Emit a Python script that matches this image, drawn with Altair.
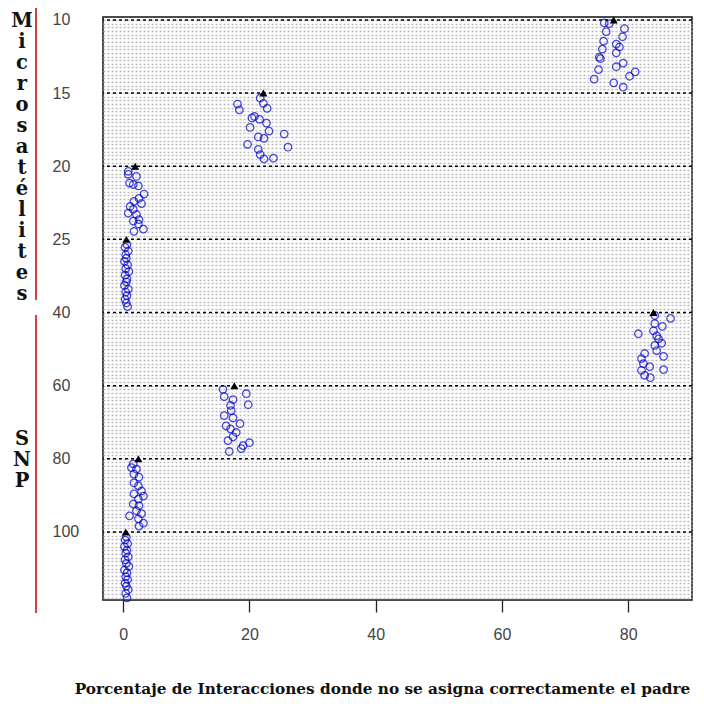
import json
import altair as alt
import pandas as pd

categories = ["10", "15", "20", "25", "40", "60", "80", "100"]
group_names = ["Microsatélites", "SNP"]
means = [77.7, 22.2, 1.9, 0.5, 84.0, 17.6, 2.4, 0.4]

x_10 = [76.2, 77.0, 79.4, 76.5, 79.1, 76.1, 78.1, 78.6, 75.9, 78.1, 75.4, 75.6, 79.2, 78.1, 75.3, 81.1, 80.2, 74.6, 77.7, 79.2]
r_10 = [.04, .05, .12, .16, .23, .29, .33, .37, .40, .45, .51, .53, .59, .64, .68, .71, .77, .81, .86, .92]
x_15 = [21.7, 22.2, 18.1, 22.8, 18.4, 20.8, 20.4, 21.6, 22.7, 20.1, 23.1, 25.5, 21.4, 22.3, 19.7, 26.1, 21.4, 21.7, 23.8, 22.3]
r_15 = [.07, .14, .15, .21, .23, .32, .34, .36, .41, .47, .52, .56, .60, .62, .70, .74, .77, .84, .89, .90]
x_20 = [0.8, 0.8, 2.1, 1.0, 1.6, 2.4, 3.3, 2.5, 1.7, 2.9, 1.1, 1.6, 0.8, 2.1, 2.5, 1.6, 2.4, 3.2, 1.7]
r_20 = [.07, .11, .14, .23, .25, .27, .38, .44, .48, .51, .55, .59, .64, .66, .73, .75, .79, .86, .89]
x_25 = [0.6, 0.3, 0.8, 0.4, 0.5, 0.2, 0.7, 0.4, 0.9, 0.3, 0.6, 0.5, 0.2, 0.8, 0.4, 0.6, 0.3, 0.5, 0.7]
r_25 = [.07, .11, .16, .21, .26, .30, .35, .40, .44, .49, .54, .58, .63, .68, .72, .77, .82, .87, .92]
x_40 = [84.2, 86.7, 84.2, 85.4, 84.0, 81.6, 84.5, 84.8, 85.3, 84.2, 84.5, 82.6, 85.6, 82.1, 82.4, 83.4, 85.6, 82.1, 82.6, 83.5]
r_40 = [.04, .08, .15, .19, .25, .29, .32, .36, .42, .45, .52, .56, .60, .63, .70, .74, .78, .79, .86, .89]
x_60 = [15.8, 19.5, 16.0, 17.4, 19.8, 17.0, 17.1, 16.0, 17.4, 18.5, 16.3, 17.0, 17.9, 17.4, 16.6, 20.0, 19.0, 18.7, 16.8]
r_60 = [.05, .11, .15, .19, .26, .27, .34, .41, .44, .52, .55, .59, .64, .70, .75, .78, .82, .86, .90]
x_80 = [1.6, 1.3, 2.1, 1.7, 2.5, 1.7, 2.4, 2.9, 1.7, 3.2, 2.4, 1.6, 2.5, 2.1, 2.9, 1.0, 2.4, 3.2, 2.5]
r_80 = [.07, .12, .14, .21, .25, .33, .37, .44, .48, .51, .55, .62, .64, .71, .75, .78, .82, .88, .92]
x_100 = [0.5, 0.3, 0.7, 0.2, 0.6, 0.4, 0.8, 0.3, 0.5, 0.9, 0.2, 0.6, 0.4, 0.7, 0.3, 0.5, 0.8, 0.4, 0.6]
r_100 = [.07, .11, .16, .20, .25, .29, .34, .38, .43, .47, .52, .56, .61, .65, .70, .74, .79, .84, .90]

xs = [x_10, x_15, x_20, x_25, x_40, x_60, x_80, x_100]
rs = [r_10, r_15, r_20, r_25, r_40, r_60, r_80, r_100]

rows = []
for gi, (xv, rv) in enumerate(zip(xs, rs)):
    for a, b in zip(xv, rv):
        rows.append({"x": a, "pos": gi + b, "grp": categories[gi]})
circles_df = pd.DataFrame(rows)
tri_df = pd.DataFrame({"x": means, "pos": list(range(len(categories))), "grp": categories})
lines_df = pd.DataFrame({"pos": list(range(len(categories)))})

W, H = 589, 583
yscale = alt.Scale(domain=[-0.04, 7.93], reverse=True, nice=False, zero=False)
xscale = alt.Scale(domain=[-3.2, 90.1], nice=False, zero=False)

grid_vals = [k / 20 for k in range(0, 159)]
label_expr = ("(datum.value % 1 == 0) ? " + json.dumps(categories) + "[datum.value] : ''")

yaxis = alt.Axis(
    values=grid_vals, labelExpr=label_expr, grid=True, gridColor="#bcbcbc",
    gridDash=[2, 2], gridWidth=1.3, ticks=False, tickSize=0, domain=False,
    labelAlign="left", labelPadding=51, labelBaseline="middle",
    labelFont="Liberation Sans", labelFontSize=16, labelColor="#444444",
    labelOverlap=False, labelFlush=False, title="",
)
xaxis = alt.Axis(
    values=[0, 20, 40, 60, 80], grid=False, domain=False, tickSize=12,
    tickColor="#222222", tickWidth=1.3, labelPadding=14,
    labelFont="Liberation Sans", labelFontSize=16, labelColor="#444444",
    title="Porcentaje de Interacciones donde no se asigna correctamente el padre",
    titleFont="DejaVu Serif", titleFontWeight="bold", titleFontSize=15.3,
    titleColor="#111111", titleX=279, titleY=81, titleBaseline="top",
)

X = alt.X("x:Q", scale=xscale, axis=xaxis)
Y = alt.Y("pos:Q", scale=yscale, axis=yaxis)

circles = alt.Chart(circles_df).mark_point(
    shape="circle", filled=False, color="#0000CD", size=56, strokeWidth=1.3
).encode(x=X, y=Y)

dashed = alt.Chart(lines_df).mark_rule(
    color="black", strokeDash=[3, 3], strokeWidth=1.5
).encode(y=Y)

tris = alt.Chart(tri_df).mark_point(
    shape="triangle-up", filled=True, color="black", size=65, opacity=1
).encode(x=X, y=Y)

one = pd.DataFrame({"a": [0]})
txt1 = alt.Chart(one).mark_text(
    text="\n".join(list(group_names[0])), lineBreak="\n", lineHeight=21,
    font="DejaVu Serif", fontWeight="bold", fontSize=19.5, color="#111111",
    align="center", baseline="top",
).encode(x=alt.value(-81), y=alt.value(-5))
txt2 = alt.Chart(one).mark_text(
    text="\n".join(list(group_names[1])), lineBreak="\n", lineHeight=21,
    font="DejaVu Serif", fontWeight="bold", fontSize=19.5, color="#111111",
    align="center", baseline="top",
).encode(x=alt.value(-81), y=alt.value(413))

red1 = alt.Chart(one).mark_rule(color="#C00000", strokeWidth=1.5).encode(
    x=alt.value(-67), y=alt.value(-12), y2=alt.value(283))
red2 = alt.Chart(one).mark_rule(color="#C00000", strokeWidth=1.5).encode(
    x=alt.value(-67), y=alt.value(298), y2=alt.value(596))

chart = alt.layer(circles, dashed, tris, txt1, txt2, red1, red2).properties(
    width=W, height=H,
    autosize=alt.AutoSizeParams(type="none"),
    padding={"left": 95, "top": 9, "right": 4, "bottom": 100},
).configure(background="white").configure_view(
    stroke="#111111", strokeWidth=1.5, fill="white"
)

chart.save("out.html", embed_options={"renderer": "svg", "actions": False})
